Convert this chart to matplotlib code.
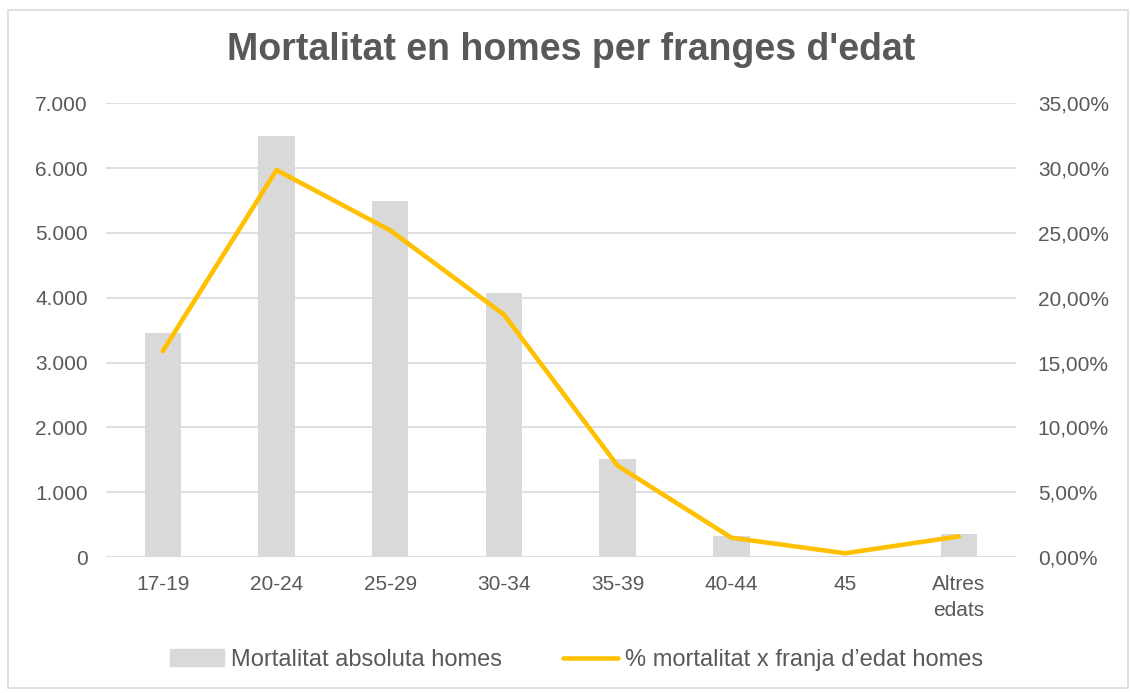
import matplotlib
matplotlib.use("Agg")
import matplotlib.pyplot as plt
from matplotlib.patches import Rectangle
from matplotlib.lines import Line2D

plt.rcParams['font.family'] = ['Liberation Sans', 'DejaVu Sans']

# data
ages = ["17-19", "20-24", "25-29", "30-34", "35-39", "40-44", "45", "Altres\nedats"]
deaths = [3460, 6490, 5490, 4075, 1520, 330, 15, 350]
pct = [15.9, 29.85, 25.2, 18.7, 7.05, 1.5, 0.3, 1.6]

left_ticks = [0, 1000, 2000, 3000, 4000, 5000, 6000, 7000]
right_ticks = [0, 5, 10, 15, 20, 25, 30, 35]

txt = "#595959"
grid_c = "#D9D9D9"
bar_c = "#D9D9D9"
line_c = "#FFC000"

fig = plt.figure(figsize=(11.3, 6.93), dpi=100)
ax = fig.add_axes([0.0938, 0.196, 0.805, 0.655])
ax2 = ax.twinx()

x = list(range(len(ages)))
ax.bar(x, deaths, width=0.32, color=bar_c, zorder=2)
ax2.plot(x, pct, color=line_c, lw=3.3, solid_capstyle='round',
         solid_joinstyle='round', zorder=3)

ax.set_xlim(-0.5, len(ages) - 0.5)
ax.set_ylim(0, 7000)
ax2.set_ylim(0, 35)
ax.set_yticks(left_ticks)
ax.set_yticklabels([f"{v:,}".replace(",", ".") for v in left_ticks])
ax2.set_yticks(right_ticks)
ax2.set_yticklabels([f"{v:.2f}".replace(".", ",") + "%" for v in right_ticks])
ax.set_xticks(x)
ax.set_xticklabels(ages, linespacing=1.45)

ax.grid(axis='y', color=grid_c, lw=1.2, zorder=0)
ax.set_axisbelow(True)
for a in (ax, ax2):
    for s in a.spines.values():
        s.set_visible(False)
    a.tick_params(length=0, labelsize=15, labelcolor=txt)
ax.tick_params(axis='y', pad=13)
ax2.tick_params(axis='y', pad=16)
ax.tick_params(axis='x', pad=13)

fig.text(0.505, 1 - 50 / 693, "Mortalitat en homes per franges d'edat",
         ha='center', va='center', fontsize=27, fontweight='bold', color=txt)

handles = [Rectangle((0, 0), 1, 1, color=bar_c),
           Line2D([0], [0], color=line_c, lw=3.3, solid_capstyle='round')]
leg = fig.legend(handles, ["Mortalitat absoluta homes", "% mortalitat x franja d\u2019edat homes"],
                 loc='center', bbox_to_anchor=(0.51, 1 - 660 / 693), ncol=2,
                 frameon=False, fontsize=17, handlelength=2.3, handletextpad=0.3,
                 columnspacing=2.6)
for t in leg.get_texts():
    t.set_color(txt)

fig.patches.append(Rectangle((8 / 1130, 1 - 688 / 693), 1120 / 1130, 678 / 693,
                             transform=fig.transFigure, fill=False,
                             edgecolor=grid_c, lw=1.2))

fig.savefig("out.png", dpi=100, facecolor='white')
